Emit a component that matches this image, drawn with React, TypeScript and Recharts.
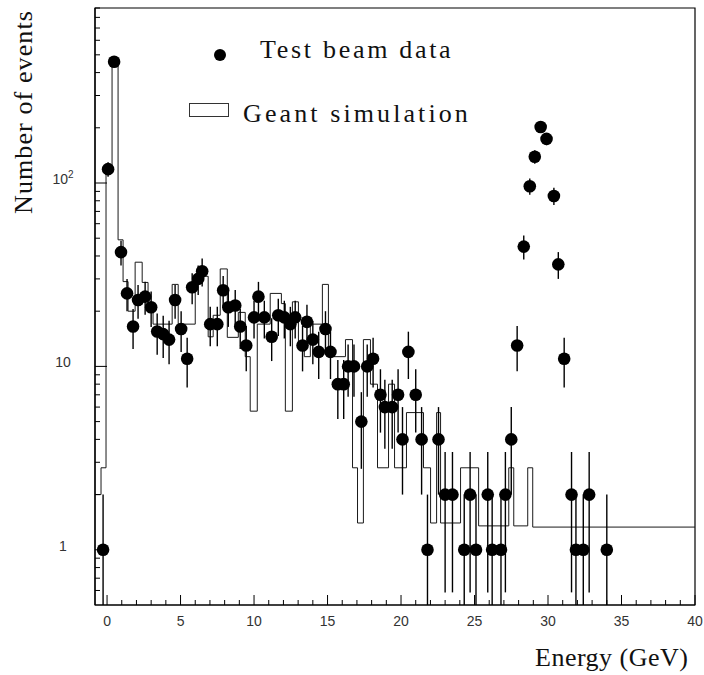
import { ComposedChart, ErrorBar, Line, ReferenceArea, Scatter, XAxis, YAxis } from 'recharts';

// test beam data (energy in GeV, number of events)
const beamEnergy = [
    -0.27, 0.07, 0.48, 0.95, 1.36, 1.77, 2.11, 2.59, 3.0, 3.41, 3.82, 4.22, 4.63, 5.04, 5.45, 5.79,
    6.2, 6.47, 7.02, 7.5, 7.9, 8.25, 8.72, 9.06, 9.47, 10.0, 10.3, 10.7, 11.2, 11.65, 12.06, 12.47,
    12.8, 13.3, 13.6, 14.0, 14.4, 14.86, 15.2, 15.7, 16.1, 16.4, 16.8, 17.3, 17.7, 18.1, 18.6, 18.9,
    19.4, 19.8, 20.1, 20.5, 21.0, 21.4, 21.8, 22.55, 23.0, 23.5, 24.3, 24.7, 25.1, 25.9, 26.2, 26.8,
    27.1, 27.5, 27.9, 28.35, 28.76, 29.1, 29.5, 29.9, 30.4, 30.7, 31.1, 31.6, 31.9, 32.4, 32.8, 34.0,
];
const beamCounts = [
    1, 119, 458, 42, 25, 16.5, 23, 24, 21, 15.5, 15, 14, 23, 16, 11, 27,
    30, 33, 17, 17, 26, 21, 21.5, 16.5, 13, 18.5, 24, 18.5, 14.5, 19, 18.5, 17,
    18.5, 13, 17.5, 14, 12, 16, 12, 8, 8, 10, 10, 5, 10, 11, 7, 6,
    6, 7, 4, 12, 7, 4, 1, 4, 2, 2, 1, 2, 1, 2, 1, 1,
    2, 4, 13, 45, 96, 139, 202, 174, 85, 36, 11, 2, 1, 1, 2, 1,
];

// Geant simulation histogram: bin left edges and contents
const simEdges = [
    -0.82, -0.41, -0.07, 0.34, 0.75, 1.09, 1.43, 1.91, 2.39, 2.79, 3.13, 4.43, 4.84, 6.0, 6.47, 6.88,
    7.22, 7.7, 8.18, 8.93, 9.4, 9.74, 10.22, 11.1, 11.86, 12.13, 12.61, 13.02, 13.42, 13.83, 14.65, 15.06,
    16.22, 16.7, 17.04, 17.44, 17.92, 18.4, 19.15, 19.56, 20.37, 21.53, 22.01, 22.42, 22.69, 24.05, 25.28, 27.33,
    27.67, 28.62, 28.96, 40,
];
const simCounts = [
    2, 2.8, 115, 460, 49, 29, 20, 37, 28.7, 19.7, 17, 28, 17, 29, 31, 14.5,
    19, 34, 14.4, 19.7, 11.3, 5.7, 17, 25, 22, 5.7, 22.5, 13, 11.3, 17, 28, 11.3,
    14, 2.8, 1.4, 14, 8, 2.8, 8, 2.8, 5.6, 2.8, 1.4, 5.6, 1.4, 2.8, 1.35, 2.8,
    1.35, 2.8, 1.33, 1.33,
];

const xTicks = [
    0, 1, 2, 3, 4, 5, 6, 7, 8, 9, 10, 11, 12, 13, 14, 15, 16, 17, 18, 19, 20,
    21, 22, 23, 24, 25, 26, 27, 28, 29, 30, 31, 32, 33, 34, 35, 36, 37, 38, 39, 40,
];
const yTicks = [
    0.6, 0.7, 0.8, 0.9, 1, 2, 3, 4, 5, 6, 7, 8, 9, 10, 20, 30, 40, 50, 60, 70, 80, 90,
    100, 200, 300, 400, 500, 600, 700, 800, 900,
];
const yMajorLabels: Record<number, string> = { 1: '1', 10: '10', 100: '10' };

const X_MIN = -0.82;
const X_MAX = 40;
const Y_MIN = 0.5;
const Y_MAX = 900;

const beamData = beamEnergy.map((x, i) => {
    const y = beamCounts[i];
    const s = Math.sqrt(y);
    const low = Math.max(y - s, Y_MIN);
    return { x, y, err: [y - low, s] };
});

const simData = simEdges.map((x, i) => ({ x, y: simCounts[i] }));

const tickFont = '"Liberation Sans", Arial, sans-serif';
const titleFont = '"Liberation Serif", "Times New Roman", serif';

const XTick = (props: any) => {
    const { x, y, payload } = props;
    const v = payload.value;
    const major = v % 5 === 0;
    return (
        <g>
            <line x1={x} x2={x} y1={y} y2={y - (major ? 10 : 5)} stroke="#000" strokeWidth={1} />
            {major && (
                <text x={x} y={y + 21} textAnchor="middle" fontFamily={tickFont} fontSize={14} fill="#333">
                    {v}
                </text>
            )}
        </g>
    );
};

const YTick = (props: any) => {
    const { x, y, payload } = props;
    const v = payload.value;
    const label = yMajorLabels[v];
    return (
        <g>
            <line x1={x} x2={x + (label ? 12 : 5)} y1={y} y2={y} stroke="#000" strokeWidth={1} />
            {label && (
                <text x={x - 32} y={y + 1} textAnchor="middle" fontFamily={tickFont} fontSize={14} fill="#333">
                    {label}
                    {v === 100 && (
                        <tspan dy={-6} fontSize={10}>
                            2
                        </tspan>
                    )}
                </text>
            )}
        </g>
    );
};

const BeamDot = (props: any) => {
    const { cx, cy } = props;
    if (cx == null || cy == null) return null;
    return <circle cx={cx} cy={cy} r={6.3} fill="#000" />;
};

export default function App() {
    return (
        <div style={{ position: 'absolute', left: 0, top: 0, width: 704, height: 675, background: '#fff' }}>
            <ComposedChart
                width={704}
                height={675}
                margin={{ top: 8, right: 9, bottom: 30, left: 35 }}
            >
                <XAxis
                    type="number"
                    dataKey="x"
                    domain={[X_MIN, X_MAX]}
                    allowDataOverflow
                    ticks={xTicks}
                    interval={0}
                    tickSize={0}
                    tickMargin={0}
                    tickLine={false}
                    axisLine={{ stroke: '#000', strokeWidth: 1.2 }}
                    tick={<XTick />}
                    height={40}
                />
                <YAxis
                    type="number"
                    scale="log"
                    domain={[Y_MIN, Y_MAX]}
                    allowDataOverflow
                    ticks={yTicks}
                    interval={0}
                    tickSize={0}
                    tickMargin={0}
                    tickLine={false}
                    axisLine={{ stroke: '#000', strokeWidth: 1.2 }}
                    tick={<YTick />}
                    width={60}
                />
                <ReferenceArea
                    x1={X_MIN}
                    x2={X_MAX}
                    y1={Y_MIN}
                    y2={Y_MAX}
                    fill="none"
                    stroke="#000"
                    strokeWidth={1.2}
                />
                <Line
                    data={simData}
                    dataKey="y"
                    type="stepAfter"
                    dot={false}
                    activeDot={false}
                    stroke="#1a1a1a"
                    strokeWidth={1}
                    isAnimationActive={false}
                />
                <Scatter data={beamData} dataKey="y" shape={<BeamDot />} isAnimationActive={false}>
                    <ErrorBar dataKey="err" direction="y" width={0} stroke="#000" strokeWidth={1.4} />
                </Scatter>
            </ComposedChart>

            {/* legend */}
            <div
                style={{
                    position: 'absolute',
                    left: 214,
                    top: 49,
                    width: 12,
                    height: 12,
                    borderRadius: '50%',
                    background: '#000',
                }}
            />
            <div
                style={{
                    position: 'absolute',
                    left: 260,
                    top: 37,
                    fontFamily: titleFont,
                    fontSize: 26,
                    lineHeight: '26px',
                    letterSpacing: 2.7,
                    whiteSpace: 'nowrap',
                    color: '#111',
                }}
            >
                Test beam data
            </div>
            <div
                style={{
                    position: 'absolute',
                    left: 189,
                    top: 103,
                    width: 38,
                    height: 12,
                    border: '1px solid #333',
                }}
            />
            <div
                style={{
                    position: 'absolute',
                    left: 243,
                    top: 101,
                    fontFamily: titleFont,
                    fontSize: 26,
                    lineHeight: '26px',
                    letterSpacing: 3.1,
                    whiteSpace: 'nowrap',
                    color: '#111',
                }}
            >
                Geant simulation
            </div>

            {/* axis titles */}
            <div
                style={{
                    position: 'absolute',
                    left: 24,
                    top: 112,
                    transform: 'translate(-50%, -50%) rotate(-90deg)',
                    fontFamily: titleFont,
                    fontSize: 26,
                    lineHeight: '26px',
                    letterSpacing: 1.1,
                    whiteSpace: 'nowrap',
                    color: '#111',
                }}
            >
                Number of events
            </div>
            <div
                style={{
                    position: 'absolute',
                    left: 535,
                    top: 645,
                    fontFamily: titleFont,
                    fontSize: 26,
                    lineHeight: '26px',
                    letterSpacing: 0.5,
                    whiteSpace: 'nowrap',
                    color: '#111',
                }}
            >
                Energy (GeV)
            </div>
        </div>
    );
}
